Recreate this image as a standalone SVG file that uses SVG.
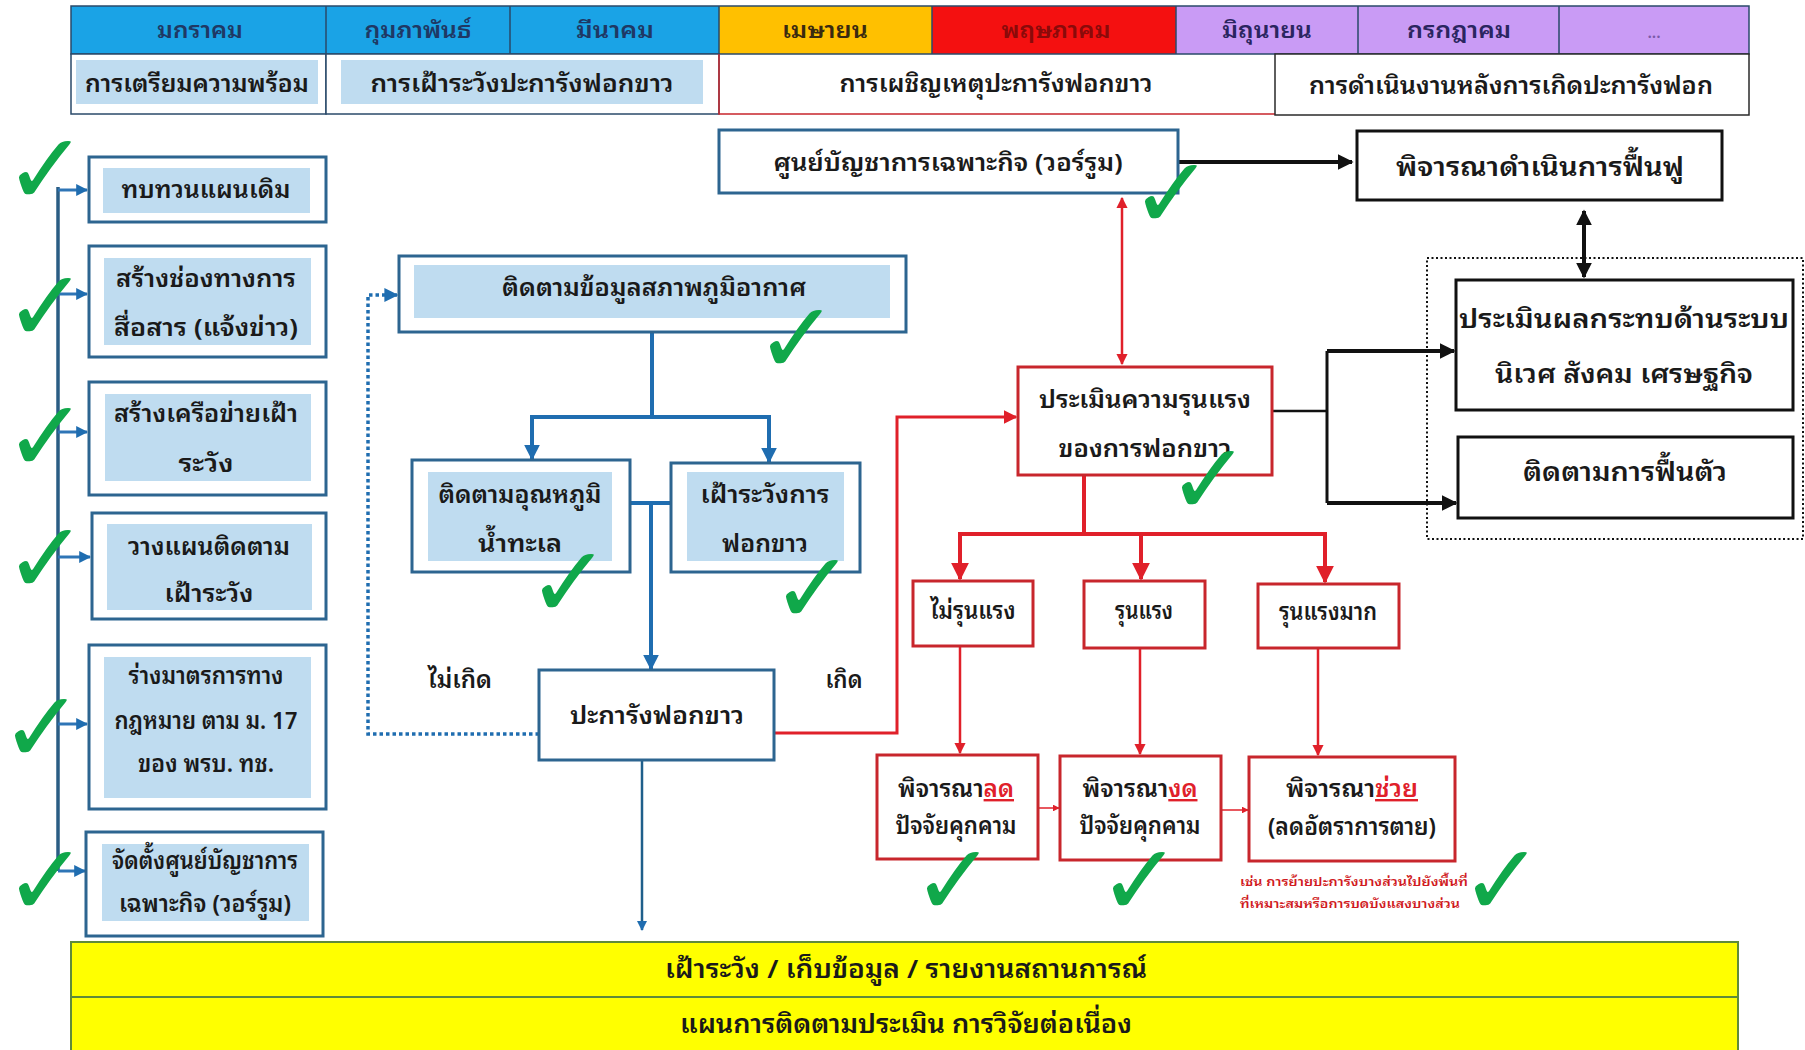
<svg xmlns="http://www.w3.org/2000/svg" width="1805" height="1050" viewBox="0 0 1805 1050">
<style>
text{font-family:"Noto Sans Thai Looped","Garuda","Loma","Tahoma","Noto Sans Thai","Liberation Sans","DejaVu Sans",sans-serif;fill:#1a1a1a;font-weight:600;}
.m{font-size:22px;text-anchor:middle;}
.t{font-size:24px;text-anchor:middle;}
.b{font-size:26px;text-anchor:middle;}
.ob{fill:#fff;stroke:#2d6590;stroke-width:3;}
.ib{fill:#bfdcf0;stroke:none;}
.rb{fill:#fff;stroke:#c8262c;stroke-width:3;}
.kb{fill:#fff;stroke:#111;stroke-width:3;}
.chk{font-family:"DejaVu Sans",sans-serif;font-weight:200;font-size:100px;fill:#10a84a;text-anchor:middle;}
.red{fill:#e0202a;text-decoration:underline;}
</style>
<defs>
<marker id="ab" viewBox="0 0 10 10" refX="9" refY="5" markerWidth="4" markerHeight="4" orient="auto" markerUnits="strokeWidth"><path d="M0,0L10,5L0,10z" fill="#1f6db0"/></marker>
<marker id="ar" viewBox="0 0 10 10" refX="9" refY="5" markerWidth="4.5" markerHeight="4.5" orient="auto-start-reverse" markerUnits="strokeWidth"><path d="M0,0L10,5L0,10z" fill="#e0202a"/></marker>
<marker id="ak" viewBox="0 0 10 10" refX="9" refY="5" markerWidth="4" markerHeight="4" orient="auto-start-reverse" markerUnits="strokeWidth"><path d="M0,0L10,5L0,10z" fill="#111"/></marker>
</defs>
<rect width="1805" height="1050" fill="#fff"/>

<g id="header">
<rect x="71" y="6" width="255" height="48" fill="#1aa3e6"/>
<rect x="326" y="6" width="184" height="48" fill="#1aa3e6"/>
<rect x="510" y="6" width="209" height="48" fill="#1aa3e6"/>
<rect x="719" y="6" width="213" height="48" fill="#ffc000"/>
<rect x="932" y="6" width="244" height="48" fill="#f41010"/>
<rect x="1176" y="6" width="182" height="48" fill="#c99bf5"/>
<rect x="1358" y="6" width="201" height="48" fill="#c99bf5"/>
<rect x="1559" y="6" width="190" height="48" fill="#c99bf5"/>
<g stroke="#2a4a6a" stroke-width="1.5" fill="none">
<rect x="71" y="6" width="1678" height="48"/>
<path d="M326,6V54M510,6V54M719,6V54M932,6V54M1176,6V54M1358,6V54M1559,6V54"/>
</g>
<text class="m" x="200" y="38" textLength="86" lengthAdjust="spacingAndGlyphs" style="fill:#1f3864">มกราคม</text>
<text class="m" x="418" y="38" textLength="107" lengthAdjust="spacingAndGlyphs" style="fill:#1f3864">กุมภาพันธ์</text>
<text class="m" x="615" y="38" textLength="78" lengthAdjust="spacingAndGlyphs" style="fill:#1f3864">มีนาคม</text>
<text class="m" x="825" y="38" textLength="86" lengthAdjust="spacingAndGlyphs" style="fill:#3a2a10">เมษายน</text>
<text class="m" x="1056" y="38" textLength="109" lengthAdjust="spacingAndGlyphs" style="fill:#8a0a0a">พฤษภาคม</text>
<text class="m" x="1267" y="38" textLength="90" lengthAdjust="spacingAndGlyphs" style="fill:#2a2560">มิถุนายน</text>
<text class="m" x="1459" y="38" textLength="104" lengthAdjust="spacingAndGlyphs" style="fill:#2a2560">กรกฎาคม</text>
<text class="m" x="1654" y="38" style="fill:#7a5aa8;font-size:16px">...</text>

<rect x="71" y="54" width="255" height="60" fill="#fff" stroke="#2a4a6a" stroke-width="1.5"/>
<rect x="326" y="54" width="393" height="60" fill="#fff" stroke="#2a4a6a" stroke-width="1.5"/>
<rect x="76" y="60" width="242" height="44" class="ib"/>
<rect x="341" y="60" width="362" height="44" class="ib"/>
<path d="M719,54V114H1275" fill="none" stroke="#c8262c" stroke-width="1.5"/>
<rect x="1275" y="54" width="474" height="61" fill="#fff" stroke="#2a2a2a" stroke-width="1.5"/>
<text class="t" x="197" y="92" textLength="224" lengthAdjust="spacingAndGlyphs">การเตรียมความพร้อม</text>
<text class="t" x="522" y="92" textLength="303" lengthAdjust="spacingAndGlyphs">การเฝ้าระวังปะการังฟอกขาว</text>
<text class="t" x="996" y="92" textLength="313" lengthAdjust="spacingAndGlyphs">การเผชิญเหตุปะการังฟอกขาว</text>
<text class="t" x="1511" y="94" textLength="404" lengthAdjust="spacingAndGlyphs">การดำเนินงานหลังการเกิดปะการังฟอก</text>
</g>

<g id="connectors" fill="none">
<path d="M58,187V871" stroke="#2a5d84" stroke-width="3.5"/>
<g stroke="#2e75b6" stroke-width="3" marker-end="url(#ab)">
<path d="M58,190H87"/><path d="M58,294H87"/><path d="M58,432H87"/><path d="M58,557H90"/><path d="M58,724H87"/><path d="M58,871H85"/>
</g>
<g stroke="#1f6db0" stroke-width="4">
<path d="M652,332V417"/><path d="M530,417H771"/>
<path d="M532,417V459" marker-end="url(#ab)"/><path d="M769,417V462" marker-end="url(#ab)"/>
<path d="M630,503H671"/><path d="M651,503V669" marker-end="url(#ab)"/>
</g>
<path d="M642,760V930" stroke="#1f5f8b" stroke-width="2.5" marker-end="url(#ab)"/>
<path d="M539,734H368V295H397" stroke="#1f6db0" stroke-width="3.5" stroke-dasharray="3.5 3" marker-end="url(#ab)"/>
<path d="M774,733H897V417H1016" stroke="#e0202a" stroke-width="3" marker-end="url(#ar)"/>
<path d="M1122,198V364" stroke="#e0202a" stroke-width="2.5" marker-start="url(#ar)" marker-end="url(#ar)"/>
<g stroke="#e0202a" stroke-width="4">
<path d="M1084,475V534"/><path d="M958,534H1327"/>
<path d="M960,534V579" marker-end="url(#ar)"/><path d="M1141,534V579" marker-end="url(#ar)"/><path d="M1325,534V582" marker-end="url(#ar)"/>
</g>
<g stroke="#e0202a" stroke-width="2.5">
<path d="M960,646V753" marker-end="url(#ar)"/><path d="M1140,648V754" marker-end="url(#ar)"/><path d="M1318,648V755" marker-end="url(#ar)"/>
<path d="M1038,808H1059" stroke-width="1.5" marker-end="url(#ar)"/><path d="M1221,810H1248" stroke-width="1.5" marker-end="url(#ar)"/>
</g>
<path d="M1178,162H1352" stroke="#111" stroke-width="4" marker-end="url(#ak)"/>
<path d="M1584,211V277" stroke="#111" stroke-width="4" marker-start="url(#ak)" marker-end="url(#ak)"/>
<path d="M1272,411H1327" stroke="#111" stroke-width="2.5"/>
<path d="M1327,351V503" stroke="#111" stroke-width="3"/>
<path d="M1327,351H1454" stroke="#111" stroke-width="4" marker-end="url(#ak)"/>
<path d="M1327,503H1456" stroke="#111" stroke-width="4" marker-end="url(#ak)"/>
<rect x="1427" y="258" width="376" height="281" stroke="#111" stroke-width="2" stroke-dasharray="2 2.5"/>
</g>

<g id="n-review"><rect x="89" y="157" width="237" height="65" class="ob"/><rect x="103" y="168" width="207" height="45" class="ib"/>
<text class="t" x="206" y="198" textLength="169" lengthAdjust="spacingAndGlyphs">ทบทวนแผนเดิม</text></g>
<g id="n-channel"><rect x="89" y="246" width="237" height="111" class="ob"/><rect x="104" y="258" width="207" height="87" class="ib"/>
<text class="t" x="206" y="287" textLength="180" lengthAdjust="spacingAndGlyphs">สร้างช่องทางการ</text>
<text class="t" x="206" y="336" textLength="184" lengthAdjust="spacingAndGlyphs">สื่อสาร (แจ้งข่าว)</text></g>
<g id="n-network"><rect x="89" y="382" width="237" height="113" class="ob"/><rect x="105" y="394" width="206" height="87" class="ib"/>
<text class="t" x="206" y="422" textLength="184" lengthAdjust="spacingAndGlyphs">สร้างเครือข่ายเฝ้า</text>
<text class="t" x="206" y="472" textLength="55" lengthAdjust="spacingAndGlyphs">ระวัง</text></g>
<g id="n-plan"><rect x="92" y="513" width="234" height="106" class="ob"/><rect x="107" y="524" width="205" height="86" class="ib"/>
<text class="t" x="209" y="555" textLength="162" lengthAdjust="spacingAndGlyphs">วางแผนติดตาม</text>
<text class="t" x="209" y="602" textLength="89" lengthAdjust="spacingAndGlyphs">เฝ้าระวัง</text></g>
<g id="n-law"><rect x="89" y="645" width="237" height="164" class="ob"/><rect x="104" y="657" width="207" height="141" class="ib"/>
<text class="t" x="206" y="684" textLength="155" lengthAdjust="spacingAndGlyphs">ร่างมาตรการทาง</text>
<text class="t" x="206" y="729" textLength="183" lengthAdjust="spacingAndGlyphs">กฎหมาย ตาม ม. 17</text>
<text class="t" x="206" y="772" textLength="136" lengthAdjust="spacingAndGlyphs">ของ พรบ. ทช.</text></g>
<g id="n-warroom-setup"><rect x="86" y="832" width="237" height="104" class="ob"/><rect x="102" y="844" width="207" height="77" class="ib"/>
<text class="t" x="205" y="869" textLength="186" lengthAdjust="spacingAndGlyphs">จัดตั้งศูนย์บัญชาการ</text>
<text class="t" x="205" y="912" textLength="172" lengthAdjust="spacingAndGlyphs">เฉพาะกิจ (วอร์รูม)</text></g>

<g id="n-climate"><rect x="399" y="256" width="507" height="76" class="ob"/><rect x="414" y="265" width="476" height="53" class="ib"/>
<text class="t" x="654" y="296" textLength="304" lengthAdjust="spacingAndGlyphs">ติดตามข้อมูลสภาพภูมิอากาศ</text></g>
<g id="n-sst"><rect x="412" y="460" width="218" height="112" class="ob"/><rect x="428" y="472" width="184" height="89" class="ib"/>
<text class="t" x="520" y="503" textLength="163" lengthAdjust="spacingAndGlyphs">ติดตามอุณหภูมิ</text>
<text class="t" x="520" y="552" textLength="84" lengthAdjust="spacingAndGlyphs">น้ำทะเล</text></g>
<g id="n-bleachwatch"><rect x="671" y="463" width="189" height="109" class="ob"/><rect x="687" y="472" width="157" height="89" class="ib"/>
<text class="t" x="765" y="503" textLength="129" lengthAdjust="spacingAndGlyphs">เฝ้าระวังการ</text>
<text class="t" x="765" y="552" textLength="86" lengthAdjust="spacingAndGlyphs">ฟอกขาว</text></g>
<g id="n-bleaching"><rect x="539" y="670" width="235" height="90" class="ob"/>
<text class="t" x="657" y="724" textLength="174" lengthAdjust="spacingAndGlyphs">ปะการังฟอกขาว</text></g>
<text class="t" x="460" y="688" textLength="64" lengthAdjust="spacingAndGlyphs">ไม่เกิด</text>
<text class="t" x="844" y="688" textLength="37" lengthAdjust="spacingAndGlyphs">เกิด</text>

<g id="n-warroom"><rect x="719" y="130" width="459" height="63" class="ob"/>
<text class="t" x="948" y="171" textLength="349" lengthAdjust="spacingAndGlyphs">ศูนย์บัญชาการเฉพาะกิจ (วอร์รูม)</text></g>
<g id="n-restore"><rect x="1357" y="131" width="365" height="69" class="kb"/>
<text class="b" x="1540" y="176" textLength="288" lengthAdjust="spacingAndGlyphs">พิจารณาดำเนินการฟื้นฟู</text></g>
<g id="n-impact"><rect x="1456" y="280" width="337" height="130" class="kb"/>
<text class="b" x="1624" y="328" textLength="330" lengthAdjust="spacingAndGlyphs">ประเมินผลกระทบด้านระบบ</text>
<text class="b" x="1624" y="383" textLength="258" lengthAdjust="spacingAndGlyphs">นิเวศ สังคม เศรษฐกิจ</text></g>
<g id="n-recovery"><rect x="1458" y="437" width="335" height="81" class="kb"/>
<text class="b" x="1625" y="481" textLength="204" lengthAdjust="spacingAndGlyphs">ติดตามการฟื้นตัว</text></g>

<g id="n-severity"><rect x="1018" y="367" width="254" height="108" class="rb"/>
<text class="t" x="1145" y="408" textLength="212" lengthAdjust="spacingAndGlyphs">ประเมินความรุนแรง</text>
<text class="t" x="1145" y="457" textLength="173" lengthAdjust="spacingAndGlyphs">ของการฟอกขาว</text></g>
<g id="n-mild"><rect x="913" y="581" width="120" height="65" class="rb"/>
<text class="t" x="973" y="619" textLength="85" lengthAdjust="spacingAndGlyphs">ไม่รุนแรง</text></g>
<g id="n-severe"><rect x="1084" y="581" width="121" height="67" class="rb"/>
<text class="t" x="1144" y="619" textLength="58" lengthAdjust="spacingAndGlyphs">รุนแรง</text></g>
<g id="n-very-severe"><rect x="1258" y="584" width="141" height="64" class="rb"/>
<text class="t" x="1328" y="620" textLength="98" lengthAdjust="spacingAndGlyphs">รุนแรงมาก</text></g>
<g id="n-reduce"><rect x="877" y="755" width="161" height="104" class="rb"/>
<text class="t" x="956" y="797" textLength="116" lengthAdjust="spacingAndGlyphs">พิจารณา<tspan class="red">ลด</tspan></text>
<text class="t" x="956" y="834" textLength="121" lengthAdjust="spacingAndGlyphs">ปัจจัยคุกคาม</text></g>
<g id="n-stop"><rect x="1060" y="756" width="161" height="104" class="rb"/>
<text class="t" x="1140" y="797" textLength="115" lengthAdjust="spacingAndGlyphs">พิจารณา<tspan class="red">งด</tspan></text>
<text class="t" x="1140" y="834" textLength="121" lengthAdjust="spacingAndGlyphs">ปัจจัยคุกคาม</text></g>
<g id="n-help"><rect x="1249" y="757" width="206" height="104" class="rb"/>
<text class="t" x="1352" y="797" textLength="132" lengthAdjust="spacingAndGlyphs">พิจารณา<tspan class="red">ช่วย</tspan></text>
<text class="t" x="1352" y="835" textLength="168" lengthAdjust="spacingAndGlyphs">(ลดอัตราการตาย)</text></g>
<text x="1240" y="886" style="font-size:12px;fill:#d01a22" textLength="228" lengthAdjust="spacingAndGlyphs">เช่น การย้ายปะการังบางส่วนไปยังพื้นที่</text>
<text x="1240" y="908" style="font-size:12px;fill:#d01a22" textLength="220" lengthAdjust="spacingAndGlyphs">ที่เหมาะสมหรือการบดบังแสงบางส่วน</text>

<g id="n-bottom">
<rect x="71" y="942" width="1667" height="55" fill="#ffff00" stroke="#5f8a3a" stroke-width="2"/>
<rect x="71" y="997" width="1667" height="60" fill="#ffff00" stroke="#5f8a3a" stroke-width="2"/>
<text class="b" x="906" y="978" textLength="482" lengthAdjust="spacingAndGlyphs">เฝ้าระวัง / เก็บข้อมูล / รายงานสถานการณ์</text>
<text class="b" x="906" y="1033" textLength="452" lengthAdjust="spacingAndGlyphs">แผนการติดตามประเมิน การวิจัยต่อเนื่อง</text>
</g>

<g id="checks">
<text class="chk" x="46" y="204">✓</text>
<text class="chk" x="46" y="341">✓</text>
<text class="chk" x="46" y="471">✓</text>
<text class="chk" x="46" y="593">✓</text>
<text class="chk" x="42" y="762">✓</text>
<text class="chk" x="46" y="915">✓</text>
<text class="chk" x="797" y="373">✓</text>
<text class="chk" x="569" y="617">✓</text>
<text class="chk" x="813" y="623">✓</text>
<text class="chk" x="1172" y="228">✓</text>
<text class="chk" x="1209" y="514">✓</text>
<text class="chk" x="954" y="915">✓</text>
<text class="chk" x="1140" y="915">✓</text>
<text class="chk" x="1502" y="915">✓</text>
</g>
</svg>
